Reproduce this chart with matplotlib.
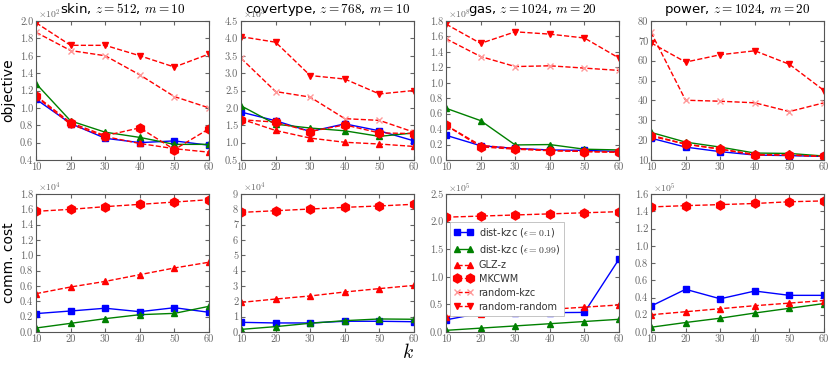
import matplotlib
matplotlib.use("Agg")
import matplotlib.pyplot as plt
import numpy as np

plt.rcParams['mathtext.fontset'] = 'cm'
plt.rcParams['font.family'] = ['DejaVu Sans']

k = [10, 20, 30, 40, 50, 60]

titles = [r"skin, $z=512$, $m=10$", r"covertype, $z=768$, $m=10$",
          r"gas, $z=1024$, $m=20$", r"power, $z=1024$, $m=20$"]

# objective (in displayed units, with exponent)
obj_exp = [2, 3, 8, None]
obj_ylim = [(0.4, 2.0), (0.5, 4.5), (0.0, 1.8), (10, 80)]
obj_yticks = [np.arange(0.4, 2.01, 0.2), np.arange(0.5, 4.51, 0.5),
              np.arange(0.0, 1.81, 0.2), np.arange(10, 81, 10)]

obj_dist01 = [[1.10, 0.82, 0.65, 0.60, 0.62, 0.57],
              [1.88, 1.63, 1.32, 1.54, 1.34, 1.05],
              [0.32, 0.185, 0.15, 0.13, 0.125, 0.11],
              [21.0, 16.5, 14.2, 12.5, 12.2, 11.8]]
obj_dist099 = [[1.28, 0.85, 0.72, 0.66, 0.58, 0.58],
               [2.06, 1.53, 1.42, 1.34, 1.18, 1.28],
               [0.67, 0.51, 0.195, 0.20, 0.14, 0.13],
               [23.9, 19.0, 16.5, 13.5, 13.3, 12.0]]
obj_glz = [[1.13, 0.81, 0.67, 0.59, 0.53, 0.49],
           [1.68, 1.35, 1.13, 1.01, 0.96, 0.89],
           [0.45, 0.19, 0.15, 0.125, 0.11, 0.10],
           [22.5, 18.0, 15.5, 12.8, 12.5, 11.8]]
obj_mkcwm = [[1.14, 0.83, 0.68, 0.77, 0.52, 0.76],
             [1.66, 1.59, 1.32, 1.51, 1.28, 1.26],
             [0.45, 0.17, 0.14, 0.12, 0.11, 0.10],
             [22.0, 18.0, 15.5, 12.5, 12.5, 11.8]]
obj_rkzc = [[1.87, 1.66, 1.60, 1.38, 1.13, 1.00],
            [3.43, 2.47, 2.31, 1.69, 1.64, 1.30],
            [1.57, 1.34, 1.21, 1.22, 1.19, 1.16],
            [74.3, 40.1, 39.6, 38.8, 34.4, 38.8]]
obj_rr = [[1.98, 1.72, 1.72, 1.60, 1.47, 1.62],
          [4.05, 3.89, 2.93, 2.83, 2.40, 2.50],
          [1.76, 1.51, 1.66, 1.63, 1.58, 1.32],
          [69.0, 59.3, 63.0, 65.0, 58.2, 45.0]]

# communication cost
cc_exp = [4, 4, 5, 5]
cc_ylim = [(0, 1.8), (0, 9), (0, 2.5), (0, 1.6)]
cc_yticks = [np.arange(0, 1.81, 0.2), np.arange(0, 9.1, 1),
             np.arange(0, 2.51, 0.5), np.arange(0, 1.61, 0.2)]

cc_dist01 = [[0.24, 0.274, 0.31, 0.265, 0.317, 0.257],
             [0.63, 0.59, 0.59, 0.70, 0.70, 0.67],
             [0.22, 0.34, 0.35, 0.35, 0.355, 1.32],
             [0.30, 0.495, 0.385, 0.475, 0.425, 0.425]]
cc_dist099 = [[0.052, 0.113, 0.174, 0.226, 0.243, 0.335],
              [0.17, 0.35, 0.57, 0.74, 0.85, 0.83],
              [0.03, 0.07, 0.11, 0.15, 0.19, 0.23],
              [0.055, 0.11, 0.16, 0.22, 0.275, 0.33]]
cc_glz = [[0.50, 0.587, 0.66, 0.748, 0.835, 0.91],
          [1.93, 2.15, 2.35, 2.61, 2.83, 3.04],
          [0.28, 0.32, 0.37, 0.41, 0.45, 0.49],
          [0.20, 0.235, 0.27, 0.305, 0.335, 0.365]]
cc_mkcwm = [[1.574, 1.60, 1.635, 1.665, 1.695, 1.726],
            [7.80, 7.91, 8.02, 8.13, 8.22, 8.33],
            [2.08, 2.10, 2.12, 2.14, 2.16, 2.18],
            [1.45, 1.465, 1.477, 1.49, 1.51, 1.52]]

labels = [r"dist-kzc ($\epsilon = 0.1$)", r"dist-kzc ($\epsilon = 0.99$)",
          "GLZ-z", "MKCWM", "random-kzc", "random-random"]

fig = plt.figure(figsize=(8.3, 3.67), dpi=100)

left0 = 36 / 830
w = 173 / 830
step = 205 / 830
top_row = (1 - 160 / 367, (160 - 21) / 367)
bot_row = (1 - 332 / 367, (332 - 194) / 367)

tick_color = '#666666'
spine_color = '#555555'


def style_axis(ax, ylim, yticks, exp):
    ax.set_xlim(10, 60)
    ax.set_xticks(k)
    ax.set_ylim(*ylim)
    ax.set_yticks(yticks)
    if all(float(t).is_integer() for t in yticks):
        ax.set_yticklabels([f"{int(t)}" for t in yticks])
    else:
        ax.set_yticklabels([f"{t:.1f}" for t in yticks])
    ax.tick_params(direction='in', top=True, right=True, length=3,
                   labelsize=7.5, colors=tick_color, labelcolor=tick_color, pad=2)
    for lab in ax.get_xticklabels() + ax.get_yticklabels():
        lab.set_fontfamily('cmr10')
    for s in ax.spines.values():
        s.set_color(spine_color)
        s.set_linewidth(0.8)
    if exp is not None:
        ax.text(0.01, 1.0, r"$\times10^{%d}$" % exp, transform=ax.transAxes,
                fontsize=7, color=tick_color, ha='left', va='bottom')


styles = [
    dict(color='blue', linestyle='-', marker='s', markersize=4.5, lw=1.0,
         markeredgecolor='blue'),
    dict(color='green', linestyle='-', marker='^', markersize=4.5, lw=1.0,
         markeredgecolor='green'),
    dict(color='red', linestyle='--', marker='^', markersize=4.5, lw=1.0,
         markeredgecolor='red'),
    dict(color='red', linestyle='--', marker='h', markersize=6.5, lw=1.0,
         markeredgecolor='red'),
    dict(color='red', linestyle='--', marker='x', markersize=5, lw=1.0,
         markeredgecolor='#ff9999'),
    dict(color='red', linestyle='--', marker='v', markersize=5, lw=1.0,
         markeredgecolor='red'),
]

legend_ax = None
for i in range(4):
    ax = fig.add_axes([left0 + i * step, top_row[0], w, top_row[1]])
    series = [obj_dist01[i], obj_dist099[i], obj_glz[i], obj_mkcwm[i],
              obj_rkzc[i], obj_rr[i]]
    order = [4, 5, 0, 1, 2, 3]
    for j in order:
        ax.plot(k, series[j], label=labels[j], **styles[j])
    style_axis(ax, obj_ylim[i], obj_yticks[i], obj_exp[i])
    ax.set_title(titles[i], fontsize=9.5, pad=6)
    if i == 0:
        ax.set_ylabel("objective", fontsize=10, labelpad=3)

    ax2 = fig.add_axes([left0 + i * step, bot_row[0], w, bot_row[1]])
    series2 = [cc_dist01[i], cc_dist099[i], cc_glz[i], cc_mkcwm[i]]
    for j in range(4):
        ax2.plot(k, series2[j], label=labels[j], **styles[j])
    style_axis(ax2, cc_ylim[i], cc_yticks[i], cc_exp[i])
    if i == 0:
        ax2.set_ylabel("comm. cost", fontsize=10, labelpad=3)
    if i == 2:
        legend_ax = ax2
        # legend entries for the random methods (not in comm. cost plot)
        ax2.plot([], [], label=labels[4], **styles[4])
        ax2.plot([], [], label=labels[5], **styles[5])

leg = legend_ax.legend(loc='upper left', bbox_to_anchor=(0.025, 0.795),
                       fontsize=7, frameon=True, handlelength=1.9,
                       labelspacing=0.4, borderpad=0.4, numpoints=2,
                       framealpha=1.0, fancybox=False, handletextpad=0.6,
                       borderaxespad=0.0)
leg.get_frame().set_edgecolor('#bbbbbb')
leg.get_frame().set_linewidth(0.6)
for t in leg.get_texts():
    t.set_color('#333333')

fig.text(408 / 830, 1 - 352 / 367, r"$k$", fontsize=14, ha='center', va='center')

fig.savefig("out.png", dpi=100)
